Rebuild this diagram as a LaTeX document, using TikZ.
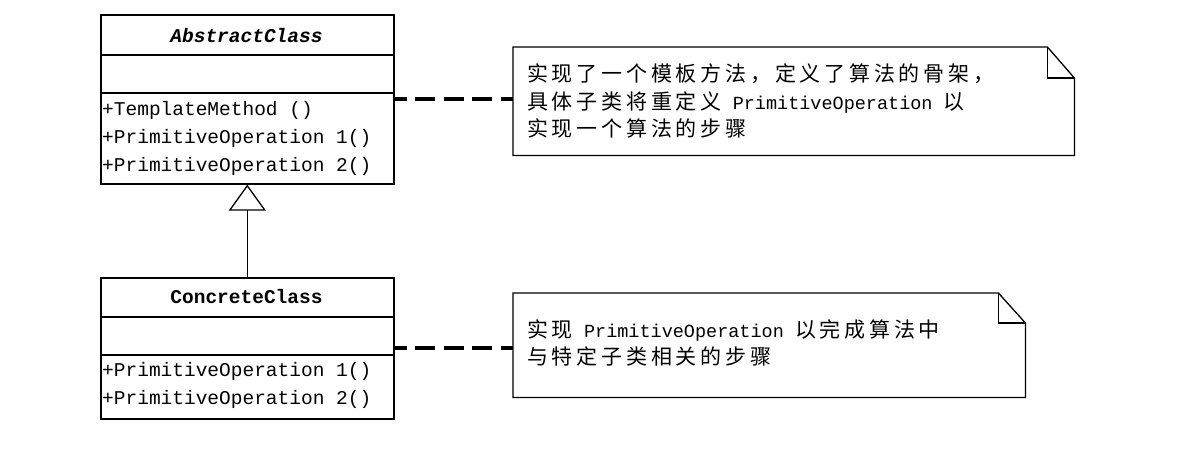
\documentclass[tikz,border=0pt]{standalone}
\usepackage{fontspec}
\setmainfont{Liberation Mono}
\newfontfamily\cjk[LetterSpace=18]{Noto Sans CJK SC}
\usetikzlibrary{arrows.meta}

% Chinese runs inside the notes
\newcommand\zh[1]{{\cjk\fontsize{21}{27}\selectfont #1}}

\begin{document}
\begin{tikzpicture}[x=1pt,y=-1pt,
  umlbox/.style={draw, line width=1.6pt, minimum width=293pt, inner sep=0pt, anchor=north west},
  divider/.style={line width=1.6pt},
  member/.style={anchor=base west, inner sep=0pt, font=\fontsize{19.5}{22}\selectfont},
  classname/.style={anchor=base, inner sep=0pt, font=\fontsize{19.5}{22}\selectfont\bfseries},
  notetext/.style={anchor=base west, inner sep=0pt, font=\fontsize{18.5}{27}\selectfont},
  notebox/.style={inner sep=0pt, anchor=north west},
  noteline/.style={line width=1.3pt, line join=miter},
  link/.style={line width=4pt, dash pattern=on 20pt off 8.5pt, dash phase=8pt},
  inherit/.style={line width=1.3pt, -{Triangle[open,length=26pt,width=37pt]}}
]
\useasboundingbox (0,0) rectangle (1179,453);

% ---- abstract class ----
\node[umlbox, minimum height=169pt] (abs) at (100,14) {};
\coordinate (absd1) at (100,55);
\coordinate (absd2) at (100,93);
\draw[divider] (absd1) -- (absd1 -| abs.east);
\draw[divider] (absd2) -- (absd2 -| abs.east);
\node[classname, font=\fontsize{19.5}{22}\selectfont\bfseries\itshape] (absname) at (246.5,42) {AbstractClass};
\node[member] (absm1) at (102,115) {+TemplateMethod ()};
\node[member] (absm2) at (102,143) {+PrimitiveOperation 1()};
\node[member] (absm3) at (102,171) {+PrimitiveOperation 2()};

% ---- concrete class ----
\node[umlbox, minimum height=141pt] (conc) at (100,277) {};
\coordinate (concd1) at (100,317);
\coordinate (concd2) at (100,355);
\draw[divider] (concd1) -- (concd1 -| conc.east);
\draw[divider] (concd2) -- (concd2 -| conc.east);
\node[classname] (concname) at (246.5,303) {ConcreteClass};
\node[member] (concm1) at (102,376) {+PrimitiveOperation 1()};
\node[member] (concm2) at (102,404) {+PrimitiveOperation 2()};

% ---- generalization ----
\draw[inherit] (conc.north) -- (abs.south);

% ---- note on the template method ----
\node[notebox, minimum width=561pt, minimum height=108pt] (n1) at (513,47) {};
\draw[noteline] (n1.north west) -- ([xshift=-27pt]n1.north east) -- ([yshift=-31pt]n1.north east)
  -- (n1.south east) -- (n1.south west) -- cycle;
\draw[noteline] ([xshift=-27pt]n1.north east) -- ([xshift=-27pt,yshift=-31pt]n1.north east)
  -- ([yshift=-31pt]n1.north east);
\node[notetext] (n1a) at (527,81) {\zh{实现了一个模板方法，定义了算法的骨架，}};
\node[notetext] (n1b) at (527,109) {\zh{具体子类将重定义} PrimitiveOperation \zh{以}};
\node[notetext] (n1c) at (527,136) {\zh{实现一个算法的步骤}};

% ---- note on the primitive operations ----
\node[notebox, minimum width=512pt, minimum height=104pt] (n2) at (513,293) {};
\draw[noteline] (n2.north west) -- ([xshift=-27pt]n2.north east) -- ([yshift=-30pt]n2.north east)
  -- (n2.south east) -- (n2.south west) -- cycle;
\draw[noteline] ([xshift=-27pt]n2.north east) -- ([xshift=-27pt,yshift=-30pt]n2.north east)
  -- ([yshift=-30pt]n2.north east);
\node[notetext] (n2a) at (527,337) {\zh{实现} PrimitiveOperation \zh{以完成算法中}};
\node[notetext] (n2b) at (527,364) {\zh{与特定子类相关的步骤}};

% ---- note attachments ----
\draw[link] (abs.east) -- (abs.east -| n1.west);
\draw[link] (conc.east) -- (conc.east -| n2.west);
\end{tikzpicture}
\end{document}
